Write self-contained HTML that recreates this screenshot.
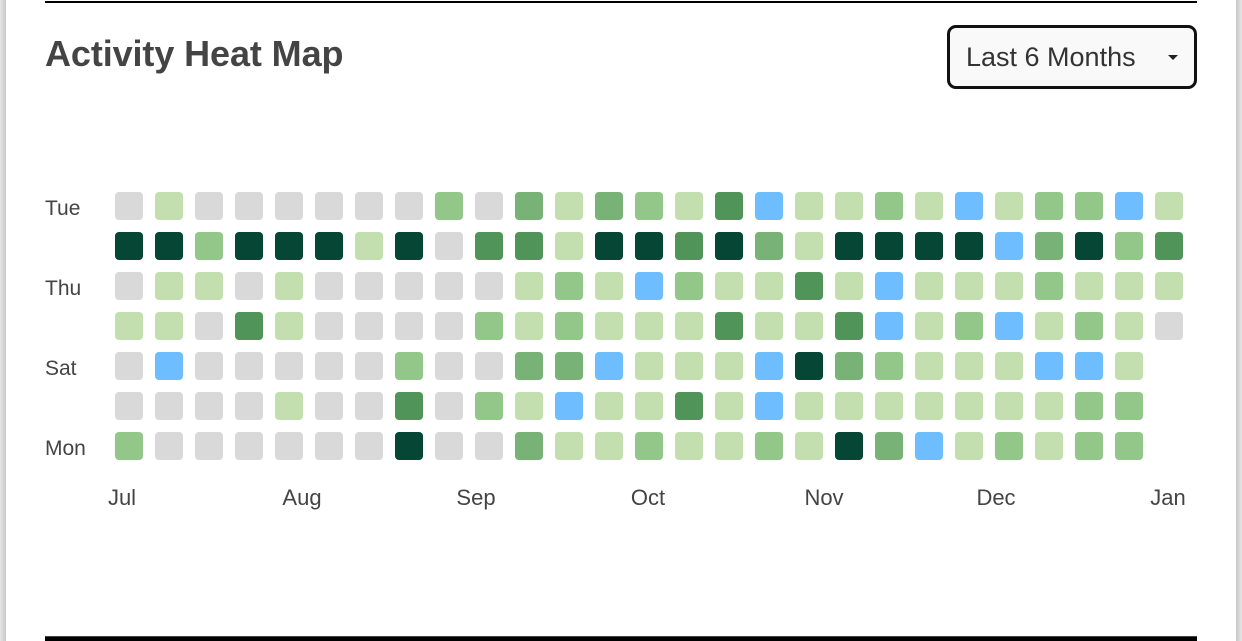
<!DOCTYPE html>
<html><head><meta charset="utf-8"><style>
html,body{margin:0;padding:0;background:#fff;width:1242px;height:641px;overflow:hidden;font-family:"Liberation Sans",sans-serif}
#lb{position:absolute;left:0;top:0;width:6px;height:641px;background:linear-gradient(90deg,#e6e6e6,#c8c8c8)}
#rb{position:absolute;left:1236px;top:0;width:6px;height:641px;background:linear-gradient(90deg,#c8c8c8,#e6e6e6)}
#tl{position:absolute;left:45px;top:1px;width:1152px;height:2px;background:#000}
#bl{position:absolute;left:45px;top:636px;width:1152px;height:5px;background:#000;border-top:1px solid #444;box-sizing:border-box}
h1{position:absolute;left:45px;top:33px;margin:0;font-size:36px;font-weight:bold;color:#444;letter-spacing:-0.1px}
#dd{position:absolute;left:947px;top:25px;width:250px;height:64px;box-sizing:border-box;border:3px solid #111;border-radius:9px;background:#f9f9f9;font-size:27px;color:#333;padding:14px 0 0 16px}
#caret{position:absolute;left:218px;top:27px;width:0;height:0;border-left:5px solid transparent;border-right:5px solid transparent;border-top:5px solid #222}
svg{position:absolute;left:0;top:0}
</style></head><body>
<div id="lb"></div>
<div id="rb"></div>
<div id="tl"></div>
<div id="bl"></div>
<h1>Activity Heat Map</h1>
<div id="dd">Last 6 Months<div id="caret"></div></div>
<svg id="chart" width="1242" height="641"></svg>
<script>
const dayLabels = ["Tue","","Thu","","Sat","","Mon"];
const monthLabels = ["Jul","Aug","Sep","Oct","Nov","Dec","Jan"];
const monthCols = [0.15,4.65,9,13.3,17.7,22,26.3];
// values per row (day), per week column; "B" = highlight, null = no data
const rowTue = [0,1,0,0,0,0,0,0,2, 0,3,1,3,2,1,4,"B",1, 1,2,1,"B",1,2,2,"B",1];
const rowWed = [5,5,2,5,5,5,1,5,0, 4,4,1,5,5,4,5,3,1, 5,5,5,5,"B",3,5,2,4];
const rowThu = [0,1,1,0,1,0,0,0,0, 0,1,2,1,"B",2,1,1,4, 1,"B",1,1,1,2,1,1,1];
const rowFri = [1,1,0,4,1,0,0,0,0, 2,1,2,1,1,1,4,1,1, 4,"B",1,2,"B",1,2,1,0];
const rowSat = [0,"B",0,0,0,0,0,2,0, 0,3,3,"B",1,1,1,"B",5, 3,2,1,1,1,"B","B",1,null];
const rowSun = [0,0,0,0,1,0,0,4,0, 2,1,"B",1,1,4,1,"B",1, 1,1,1,1,1,1,2,2,null];
const rowMon = [2,0,0,0,0,0,0,5,0, 0,3,1,1,2,1,1,2,1, 5,3,"B",1,2,1,2,2,null];
const rows = [rowTue,rowWed,rowThu,rowFri,rowSat,rowSun,rowMon];

const colors = {0:"#d9d9d9",1:"#c3dfb0",2:"#93c78a",3:"#79b277",4:"#519459",5:"#054635",B:"#6ebeff"};
const x0=115, y0=192, step=40, cell=28;
const xAt = c => x0 + c*step;
const yAt = r => y0 + r*step;
const svg=document.getElementById('chart');
const NS="http://www.w3.org/2000/svg";
rows.forEach((row,r)=>{
  row.forEach((v,c)=>{
    if(v===null) return;
    const rc=document.createElementNS(NS,'rect');
    rc.setAttribute('x',xAt(c));rc.setAttribute('y',yAt(r));
    rc.setAttribute('width',cell);rc.setAttribute('height',cell);
    rc.setAttribute('rx',4);rc.setAttribute('fill',colors[v]);
    
    
    svg.appendChild(rc);
  });
});
dayLabels.forEach((t,r)=>{
  if(!t) return;
  const tx=document.createElementNS(NS,'text');
  tx.setAttribute('x',45);tx.setAttribute('y',yAt(r)+cell/2+9);
  tx.setAttribute('font-size','21');tx.setAttribute('fill','#444');
  tx.setAttribute('font-family','Liberation Sans, sans-serif');
  tx.textContent=t;
  
  
  svg.appendChild(tx);
});
monthLabels.forEach((t,i)=>{
  const tx=document.createElementNS(NS,'text');
  tx.setAttribute('x',xAt(monthCols[i])+1);
  tx.setAttribute('y',505);
  tx.setAttribute('text-anchor','middle');
  tx.setAttribute('font-size','22');tx.setAttribute('fill','#444');
  tx.setAttribute('font-family','Liberation Sans, sans-serif');
  tx.textContent=t;
  
  
  svg.appendChild(tx);
});
</script>
</body></html>
